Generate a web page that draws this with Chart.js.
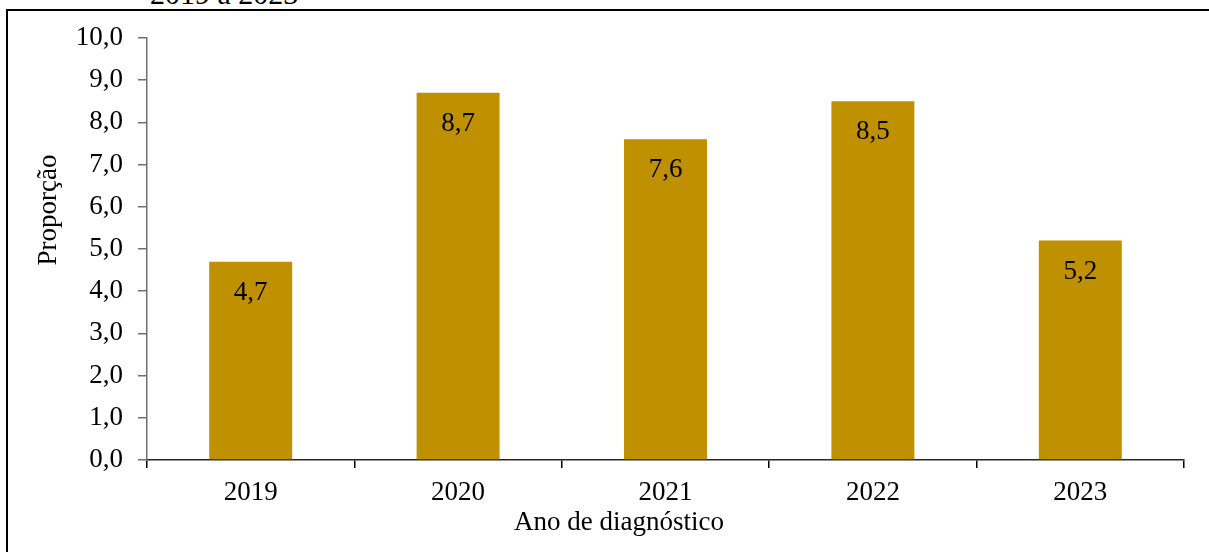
<!DOCTYPE html>
<html>
<head>
<meta charset="utf-8">
<script src="https://cdn.jsdelivr.net/npm/chart.js@4"></script>
<style>
  html, body { margin: 0; padding: 0; background: #fff; overflow: hidden; }
  #wrap { position: relative; width: 1209px; height: 552px; }
  #frame { position: absolute; left: 6px; top: 9px; width: 1300px; height: 600px;
           border: 2px solid #000; pointer-events: none; }
  #cut { position: absolute; left: 150px; top: -21px; font: 30px "Liberation Serif", serif;
         line-height: 30px; color: #000; white-space: nowrap; }
  canvas { position: absolute; left: 0; top: 0; }
</style>
</head>
<body>
<div id="wrap">
  <div id="cut">2019 a 2023</div>
  <canvas id="graph1" width="1209" height="552"></canvas>
  <div id="frame"></div>
</div>
<script>
  // data
  const years = ['2019', '2020', '2021', '2022', '2023']
  const proportion = [4.7, 8.7, 7.6, 8.5, 5.2]
  const yTicks = [0, 1, 2, 3, 4, 5, 6, 7, 8, 9, 10]
  const yTitle = 'Proporção'
  const xTitle = 'Ano de diagnóstico'

  const FONT = '"Liberation Serif", "Times New Roman", serif'
  const comma = v => v.toFixed(1).replace('.', ',')

  // values written inside the bars, near the top
  const barLabels = {
    id: 'barLabels',
    afterDatasetsDraw(chart) {
      const c = chart.ctx
      c.save()
      c.font = '27px ' + FONT
      c.fillStyle = '#000'
      c.textAlign = 'center'
      c.textBaseline = 'middle'
      chart.getDatasetMeta(0).data.forEach((bar, i) => {
        c.fillText(comma(proportion[i]), bar.x, bar.y + 31)
      })
      c.restore()
    }
  }

  // axis titles sit off-centre in the original, so draw them here
  const axisTitles = {
    id: 'axisTitles',
    afterDraw(chart) {
      const c = chart.ctx
      c.save()
      c.font = '27px ' + FONT
      c.fillStyle = '#000'
      c.textAlign = 'center'
      c.textBaseline = 'middle'
      c.fillText(xTitle, 619, 523)
      c.translate(49, 210)
      c.rotate(-Math.PI / 2)
      c.fillText(yTitle, 0, 0)
      c.restore()
    }
  }

  new Chart(document.getElementById('graph1'), {
    type: 'bar',
    data: {
      labels: years,
      datasets: [{
        data: proportion,
        backgroundColor: '#BF9000',
        borderWidth: 0,
        barPercentage: 0.4,
        categoryPercentage: 1
      }]
    },
    options: {
      responsive: false,
      animation: false,
      devicePixelRatio: 1,
      layout: { padding: { top: 38, right: 25, bottom: 0, left: 0 } },
      plugins: { legend: { display: false }, tooltip: { enabled: false } },
      scales: {
        x: {
          afterFit: s => { s.height = 92 },
          border: { color: '#262626', width: 1.5 },
          grid: { offset: true, drawOnChartArea: false, drawTicks: true, tickLength: 8, color: '#000', lineWidth: 1.5 },
          ticks: { color: '#000', padding: 9, font: { family: FONT, size: 27 } }
        },
        y: {
          min: 0,
          max: 10,
          afterFit: s => { s.width = 147 },
          afterBuildTicks: s => { s.ticks = yTicks.map(v => ({ value: v })) },
          border: { color: '#6f6f6f', width: 1.5 },
          grid: { drawOnChartArea: false, drawTicks: true, tickLength: 9, color: '#6f6f6f', lineWidth: 1.5 },
          ticks: { color: '#000', padding: 15, callback: v => comma(v), font: { family: FONT, size: 27 } }
        }
      }
    },
    plugins: [barLabels, axisTitles]
  })
</script>
</body>
</html>
